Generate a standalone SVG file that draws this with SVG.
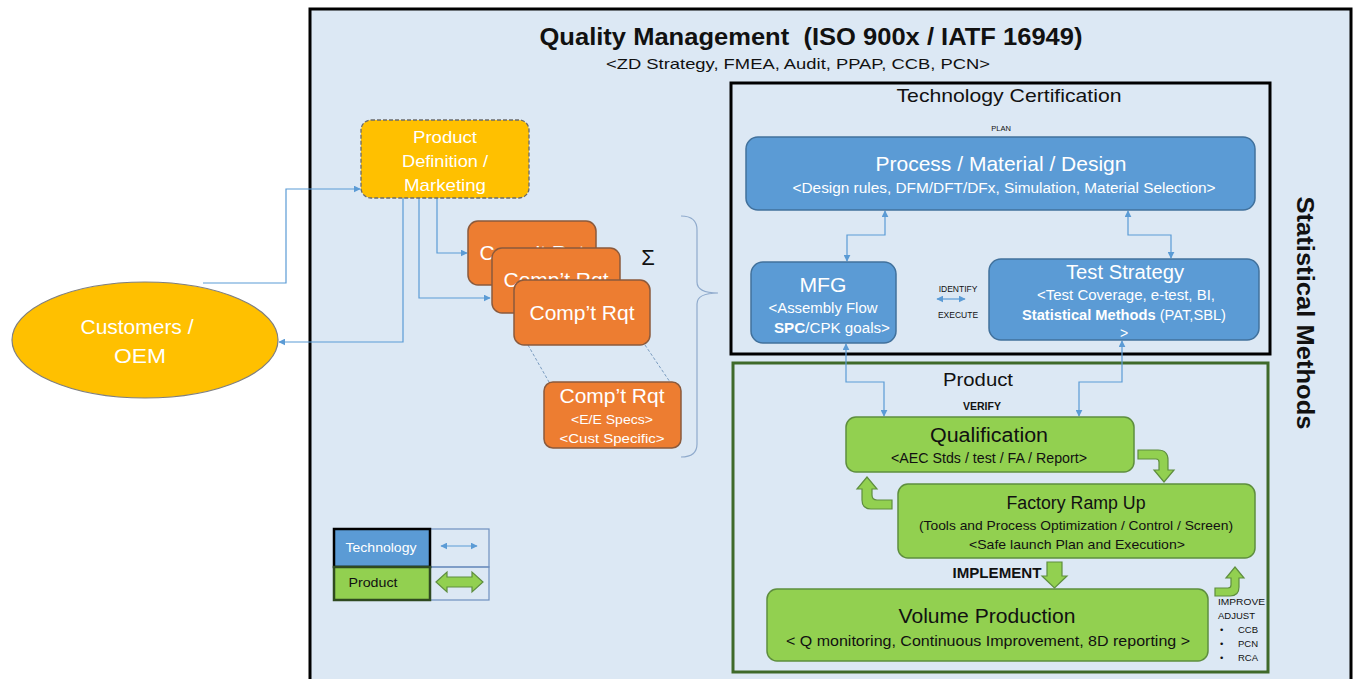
<svg xmlns="http://www.w3.org/2000/svg" width="1356" height="679" viewBox="0 0 1356 679">
<defs>
<style>
text{font-family:"Liberation Sans",Arial,sans-serif;}
.w{fill:#fff;}
.k{fill:#111;}
.blue{fill:#5B9BD5;stroke:#41719C;stroke-width:1.5;}
.green{fill:#92D050;stroke:#5E8E3E;stroke-width:1.5;}
.orange{fill:#ED7D31;stroke:#8B5A3C;stroke-width:1.5;}
.conn{fill:none;stroke:#5B9BD5;stroke-width:1.2;}
.garrow{fill:#92D050;stroke:#5E8E3E;stroke-width:1.2;}
</style>
<marker id="ah" viewBox="0 0 10 10" refX="9" refY="5" markerWidth="7" markerHeight="7" orient="auto-start-reverse" markerUnits="userSpaceOnUse">
<path d="M0,0 L10,5 L0,10 Z" fill="#5B9BD5"/>
</marker>
</defs>
<rect width="1356" height="679" fill="#fff"/>

<g id="frame">
<rect x="310" y="9" width="1041" height="690" fill="#DCE8F4" stroke="#000" stroke-width="3"/>
<text x="811" y="45" text-anchor="middle" font-size="24" font-weight="bold" class="k" textLength="543" lengthAdjust="spacingAndGlyphs">Quality Management&#160; (ISO 900x / IATF 16949)</text>
<text x="798" y="69" text-anchor="middle" font-size="15" class="k" textLength="384" lengthAdjust="spacingAndGlyphs">&lt;ZD Strategy, FMEA, Audit, PPAP, CCB, PCN&gt;</text>
<text transform="translate(1297,313) rotate(90)" text-anchor="middle" font-size="24" font-weight="bold" class="k" textLength="233" lengthAdjust="spacingAndGlyphs">Statistical Methods</text>
</g>

<g id="tech-cert">
<rect x="731" y="83" width="539" height="271" fill="none" stroke="#000" stroke-width="3"/>
<text x="1009" y="102" text-anchor="middle" font-size="19" class="k" textLength="225" lengthAdjust="spacingAndGlyphs">Technology Certification</text>
<text x="1001" y="131" text-anchor="middle" font-size="7.5" class="k">PLAN</text>
</g>

<g id="product-area">
<rect x="733" y="363" width="535" height="309" fill="none" stroke="#3F6A2A" stroke-width="3"/>
<text x="978" y="386" text-anchor="middle" font-size="19" class="k" textLength="70" lengthAdjust="spacingAndGlyphs">Product</text>
<text x="982" y="410" text-anchor="middle" font-size="10.5" font-weight="bold" class="k">VERIFY</text>
</g>

<g id="connectors">
<polyline class="conn" points="203,283 286,283 286,189 360,189" marker-end="url(#ah)"/>
<polyline class="conn" points="403,198 403,342 279,342" marker-end="url(#ah)"/>
<polyline class="conn" points="437,198 437,253 467,253" marker-end="url(#ah)"/>
<polyline class="conn" points="419,198 419,298 490,298" marker-end="url(#ah)"/>
<polyline class="conn" points="885,211 885,235 847,235 847,261" marker-start="url(#ah)" marker-end="url(#ah)"/>
<polyline class="conn" points="1128,211 1128,235 1171,235 1171,258" marker-start="url(#ah)" marker-end="url(#ah)"/>
<line class="conn" x1="937" y1="299" x2="965" y2="299" marker-start="url(#ah)" marker-end="url(#ah)"/>
<polyline class="conn" points="846,344 846,382 884,382 884,416" marker-start="url(#ah)" marker-end="url(#ah)"/>
<polyline class="conn" points="1122,341 1122,382 1079,382 1079,416" marker-start="url(#ah)" marker-end="url(#ah)"/>
<line x1="528" y1="345" x2="549" y2="382" stroke="#7A9CC0" stroke-width="1" stroke-dasharray="3,2"/>
<line x1="645" y1="345" x2="670" y2="382" stroke="#7A9CC0" stroke-width="1" stroke-dasharray="3,2"/>
<path d="M681,216 Q697,216 697,230 L697,282 Q697,293 718,293 Q697,293 697,304 L697,444 Q697,457 681,457" fill="none" stroke="#8FAACC" stroke-width="1.2"/>
<path class="garrow" d="M1138,450 L1158,450 Q1168,450 1168,460 L1168,470 L1174,470 L1164,482 L1154,470 L1159,470 L1159,462 Q1159,459 1156,459 L1138,459 Z"/>
<path class="garrow" d="M892,500 L877,500 Q872,500 872,495 L872,489 L877,489 L867,477 L857,489 L862,489 L862,500 Q862,509 871,509 L892,509 Z"/>
<path class="garrow" d="M1215,588 L1228,588 Q1231,588 1231,585 L1231,578 L1226,578 L1235,567 L1244,578 L1239,578 L1239,587 Q1239,596 1230,596 L1215,596 Z"/>
<path class="garrow" d="M1047,562 L1062,562 L1062,576 L1067,576 L1054.5,588 L1042,576 L1047,576 Z"/>
</g>

<g id="customers">
<ellipse cx="145" cy="340" rx="133" ry="58" fill="#FFC000" stroke="#7F7F7F" stroke-width="1.2"/>
<text x="137" y="334" text-anchor="middle" font-size="20" class="w" textLength="113" lengthAdjust="spacingAndGlyphs">Customers /</text>
<text x="140" y="363" text-anchor="middle" font-size="20" class="w" textLength="52" lengthAdjust="spacingAndGlyphs">OEM</text>
</g>

<g id="product-definition">
<rect x="361" y="120" width="168" height="78" rx="10" fill="#FFC000" stroke="#6B6B6B" stroke-width="1.3" stroke-dasharray="4,2"/>
<text x="445" y="143" text-anchor="middle" font-size="17" class="w" textLength="64" lengthAdjust="spacingAndGlyphs">Product</text>
<text x="445" y="167" text-anchor="middle" font-size="17" class="w" textLength="86" lengthAdjust="spacingAndGlyphs">Definition /</text>
<text x="445" y="191" text-anchor="middle" font-size="17" class="w" textLength="82" lengthAdjust="spacingAndGlyphs">Marketing</text>
</g>

<g id="comp-rqt-1">
<rect class="orange" x="468" y="221" width="128" height="64" rx="10"/>
<text x="532" y="260" text-anchor="middle" font-size="21" class="w" textLength="105" lengthAdjust="spacingAndGlyphs">Comp’t Rqt</text>
</g>
<g id="comp-rqt-2">
<rect class="orange" x="492" y="248" width="128" height="65" rx="10"/>
<text x="556" y="287" text-anchor="middle" font-size="21" class="w" textLength="105" lengthAdjust="spacingAndGlyphs">Comp’t Rqt</text>
</g>
<g id="comp-rqt-3">
<rect class="orange" x="514" y="280" width="136" height="65" rx="10"/>
<text x="582" y="320" text-anchor="middle" font-size="21" class="w" textLength="105" lengthAdjust="spacingAndGlyphs">Comp’t Rqt</text>
</g>
<g id="sigma">
<text x="648" y="265" text-anchor="middle" font-size="22" font-family="Liberation Serif, serif" class="k">Σ</text>
</g>
<g id="comp-rqt-detail">
<rect class="orange" x="544" y="382" width="137" height="66" rx="9"/>
<text x="612" y="403" text-anchor="middle" font-size="20" class="w" textLength="105" lengthAdjust="spacingAndGlyphs">Comp’t Rqt</text>
<text x="612" y="424" text-anchor="middle" font-size="13" class="w" textLength="82" lengthAdjust="spacingAndGlyphs">&lt;E/E Specs&gt;</text>
<text x="612" y="443" text-anchor="middle" font-size="13" class="w" textLength="105" lengthAdjust="spacingAndGlyphs">&lt;Cust Specific&gt;</text>
</g>

<g id="process-material-design">
<rect class="blue" x="746" y="137" width="509" height="73" rx="12"/>
<text x="1001" y="171" text-anchor="middle" font-size="21" class="w" textLength="251" lengthAdjust="spacingAndGlyphs">Process / Material / Design</text>
<text x="1004" y="193" text-anchor="middle" font-size="14" class="w" textLength="423" lengthAdjust="spacingAndGlyphs">&lt;Design rules, DFM/DFT/DFx, Simulation, Material Selection&gt;</text>
</g>

<g id="mfg">
<rect class="blue" x="751" y="262" width="145" height="81" rx="12"/>
<text x="823" y="292" text-anchor="middle" font-size="21" class="w" textLength="47" lengthAdjust="spacingAndGlyphs">MFG</text>
<text x="823" y="313" text-anchor="middle" font-size="14" class="w" textLength="109" lengthAdjust="spacingAndGlyphs">&lt;Assembly Flow</text>
<text x="832" y="333" text-anchor="middle" font-size="14" class="w" textLength="116" lengthAdjust="spacingAndGlyphs"><tspan font-weight="bold">SPC</tspan>/CPK goals&gt;</text>
</g>

<g id="identify-execute">
<text x="958" y="292" text-anchor="middle" font-size="8.5" class="k">IDENTIFY</text>
<text x="958" y="318" text-anchor="middle" font-size="8.5" class="k">EXECUTE</text>
</g>

<g id="test-strategy">
<rect class="blue" x="989" y="259" width="270" height="81" rx="12"/>
<text x="1125" y="279" text-anchor="middle" font-size="20" class="w" textLength="118" lengthAdjust="spacingAndGlyphs">Test Strategy</text>
<text x="1126" y="300" text-anchor="middle" font-size="14" class="w" textLength="178" lengthAdjust="spacingAndGlyphs">&lt;Test Coverage, e-test, BI,</text>
<text x="1124" y="320" text-anchor="middle" font-size="14" class="w" textLength="204" lengthAdjust="spacingAndGlyphs"><tspan font-weight="bold">Statistical Methods</tspan> (PAT,SBL)</text>
<text x="1124" y="338" text-anchor="middle" font-size="14" class="w">&gt;</text>
</g>

<g id="qualification">
<rect class="green" x="846" y="417" width="288" height="55" rx="10"/>
<text x="989" y="442" text-anchor="middle" font-size="20" class="k" textLength="118" lengthAdjust="spacingAndGlyphs">Qualification</text>
<text x="989" y="463" text-anchor="middle" font-size="14" class="k" textLength="196" lengthAdjust="spacingAndGlyphs">&lt;AEC Stds / test / FA / Report&gt;</text>
</g>

<g id="factory-ramp-up">
<rect class="green" x="898" y="484" width="357" height="74" rx="10"/>
<text x="1076" y="509" text-anchor="middle" font-size="18" class="k" textLength="139" lengthAdjust="spacingAndGlyphs">Factory Ramp Up</text>
<text x="1076" y="530" text-anchor="middle" font-size="13" class="k" textLength="314" lengthAdjust="spacingAndGlyphs">(Tools and Process Optimization / Control / Screen)</text>
<text x="1077" y="549" text-anchor="middle" font-size="13" class="k" textLength="216" lengthAdjust="spacingAndGlyphs">&lt;Safe launch Plan and Execution&gt;</text>
</g>

<g id="implement">
<text x="997" y="578" text-anchor="middle" font-size="14" font-weight="bold" class="k" textLength="89" lengthAdjust="spacingAndGlyphs">IMPLEMENT</text>
</g>

<g id="volume-production">
<rect class="green" x="767" y="589" width="441" height="72" rx="10"/>
<text x="987" y="623" text-anchor="middle" font-size="21" class="k" textLength="177" lengthAdjust="spacingAndGlyphs">Volume Production</text>
<text x="988" y="646" text-anchor="middle" font-size="15" class="k" textLength="404" lengthAdjust="spacingAndGlyphs">&lt; Q monitoring, Continuous Improvement, 8D reporting &gt;</text>
</g>

<g id="improve-adjust" font-size="9.5">
<text x="1218" y="605" class="k" textLength="47" lengthAdjust="spacingAndGlyphs">IMPROVE</text>
<text x="1218" y="619" class="k">ADJUST</text>
<text x="1220" y="633" class="k">•</text><text x="1238" y="633" class="k">CCB</text>
<text x="1220" y="647" class="k">•</text><text x="1238" y="647" class="k">PCN</text>
<text x="1220" y="661" class="k">•</text><text x="1238" y="661" class="k">RCA</text>
</g>

<g id="legend">
<rect x="430" y="529" width="59" height="38" fill="none" stroke="#6E8FBF" stroke-width="1.2"/>
<rect x="430" y="567" width="59" height="33" fill="none" stroke="#6E8FBF" stroke-width="1.2"/>
<rect x="334" y="529" width="96" height="38" fill="#5B9BD5" stroke="#000" stroke-width="2.5"/>
<rect x="334" y="567" width="96" height="33" fill="#92D050" stroke="#2F4A20" stroke-width="2.5"/>
<text x="381" y="552" text-anchor="middle" font-size="13" class="w" textLength="71" lengthAdjust="spacingAndGlyphs">Technology</text>
<text x="373" y="587" text-anchor="middle" font-size="13" class="k" textLength="49" lengthAdjust="spacingAndGlyphs">Product</text>
<line class="conn" x1="441" y1="546" x2="477" y2="546" marker-start="url(#ah)" marker-end="url(#ah)"/>
<path class="garrow" d="M436,582 L447,572 L447,577 L472,577 L472,572 L483,582 L472,592 L472,587 L447,587 L447,592 Z"/>
</g>
</svg>
